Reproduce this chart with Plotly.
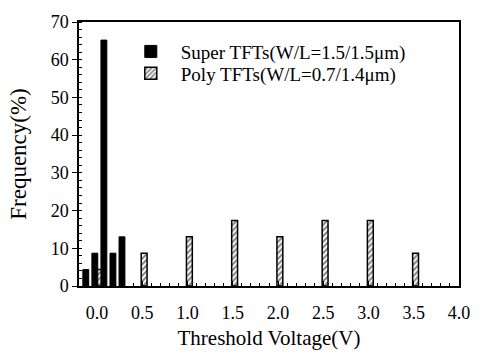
import plotly.graph_objects as go

super_x = [-0.125, -0.025, 0.075, 0.175, 0.275]
super_y = [4.35, 8.7, 65.2, 8.7, 13.04]
poly_x = [0.02, 0.52, 1.02, 1.52, 2.02, 2.52, 3.02, 3.52]
poly_y = [4.35, 8.7, 13.04, 17.39, 13.04, 17.39, 17.39, 8.7]
x_ticks = [0.0, 0.5, 1.0, 1.5, 2.0, 2.5, 3.0, 3.5, 4.0]
x_tick_labels = ["0.0", "0.5", "1.0", "1.5", "2.0", "2.5", "3.0", "3.5", "4.0"]
y_ticks = [0, 10, 20, 30, 40, 50, 60, 70]

FONT = "'Times New Roman', 'Liberation Serif', serif"

fig = go.Figure()
fig.add_trace(go.Bar(
    x=poly_x, y=poly_y, width=0.065, name="Poly TFTs(W/L=0.7/1.4\u03bcm)", legend="legend2",
    marker=dict(color="white", line=dict(color="black", width=1.5),
                pattern=dict(shape="/", fgcolor="black", bgcolor="white", size=4, solidity=0.5)),
))
fig.add_trace(go.Bar(
    x=super_x, y=super_y, width=0.065, name="Super TFTs(W/L=1.5/1.5\u03bcm)", legend="legend",
    marker=dict(color="black", line=dict(color="black", width=1)),
))

leg_common = dict(xanchor="left", yanchor="middle", bgcolor="rgba(0,0,0,0)",
                  font=dict(family=FONT, size=19, color="black"), itemwidth=50)

fig.update_layout(
    width=482, height=358,
    margin=dict(l=79, r=17, t=18, b=71),
    paper_bgcolor="white", plot_bgcolor="white",
    barmode="overlay",
    font=dict(family=FONT, size=18, color="black"),
    showlegend=True,
    legend=dict(x=0.11, y=0.888, **leg_common),
    legend2=dict(x=0.11, y=0.805, **leg_common),
    xaxis=dict(range=[-0.2, 4.0], tickmode="array", tickvals=x_ticks, ticktext=x_tick_labels,
               ticks="inside", ticklen=5, tickcolor="black", showline=True, linecolor="black",
               linewidth=1.5, mirror=True, showgrid=False, zeroline=False, ticklabelstandoff=10,
               minor=dict(dtick=0.1, ticks="inside", ticklen=3, tickcolor="black"),
               title=dict(text="Threshold Voltage(V)", font=dict(family=FONT, size=21, color="black"), standoff=8),
               tickfont=dict(family=FONT, size=18, color="black")),
    yaxis=dict(range=[0, 70], tickmode="array", tickvals=y_ticks,
               ticks="outside", ticklen=5, tickcolor="black", showline=True, linecolor="black",
               linewidth=1.5, mirror=True, showgrid=False, zeroline=False,
               minor=dict(dtick=2, ticks="inside", ticklen=3, tickcolor="black"),
               title=dict(text="Frequency(%)", font=dict(family=FONT, size=23, color="black"), standoff=18),
               tickfont=dict(family=FONT, size=18, color="black")),
)

fig.write_html("out.html")
